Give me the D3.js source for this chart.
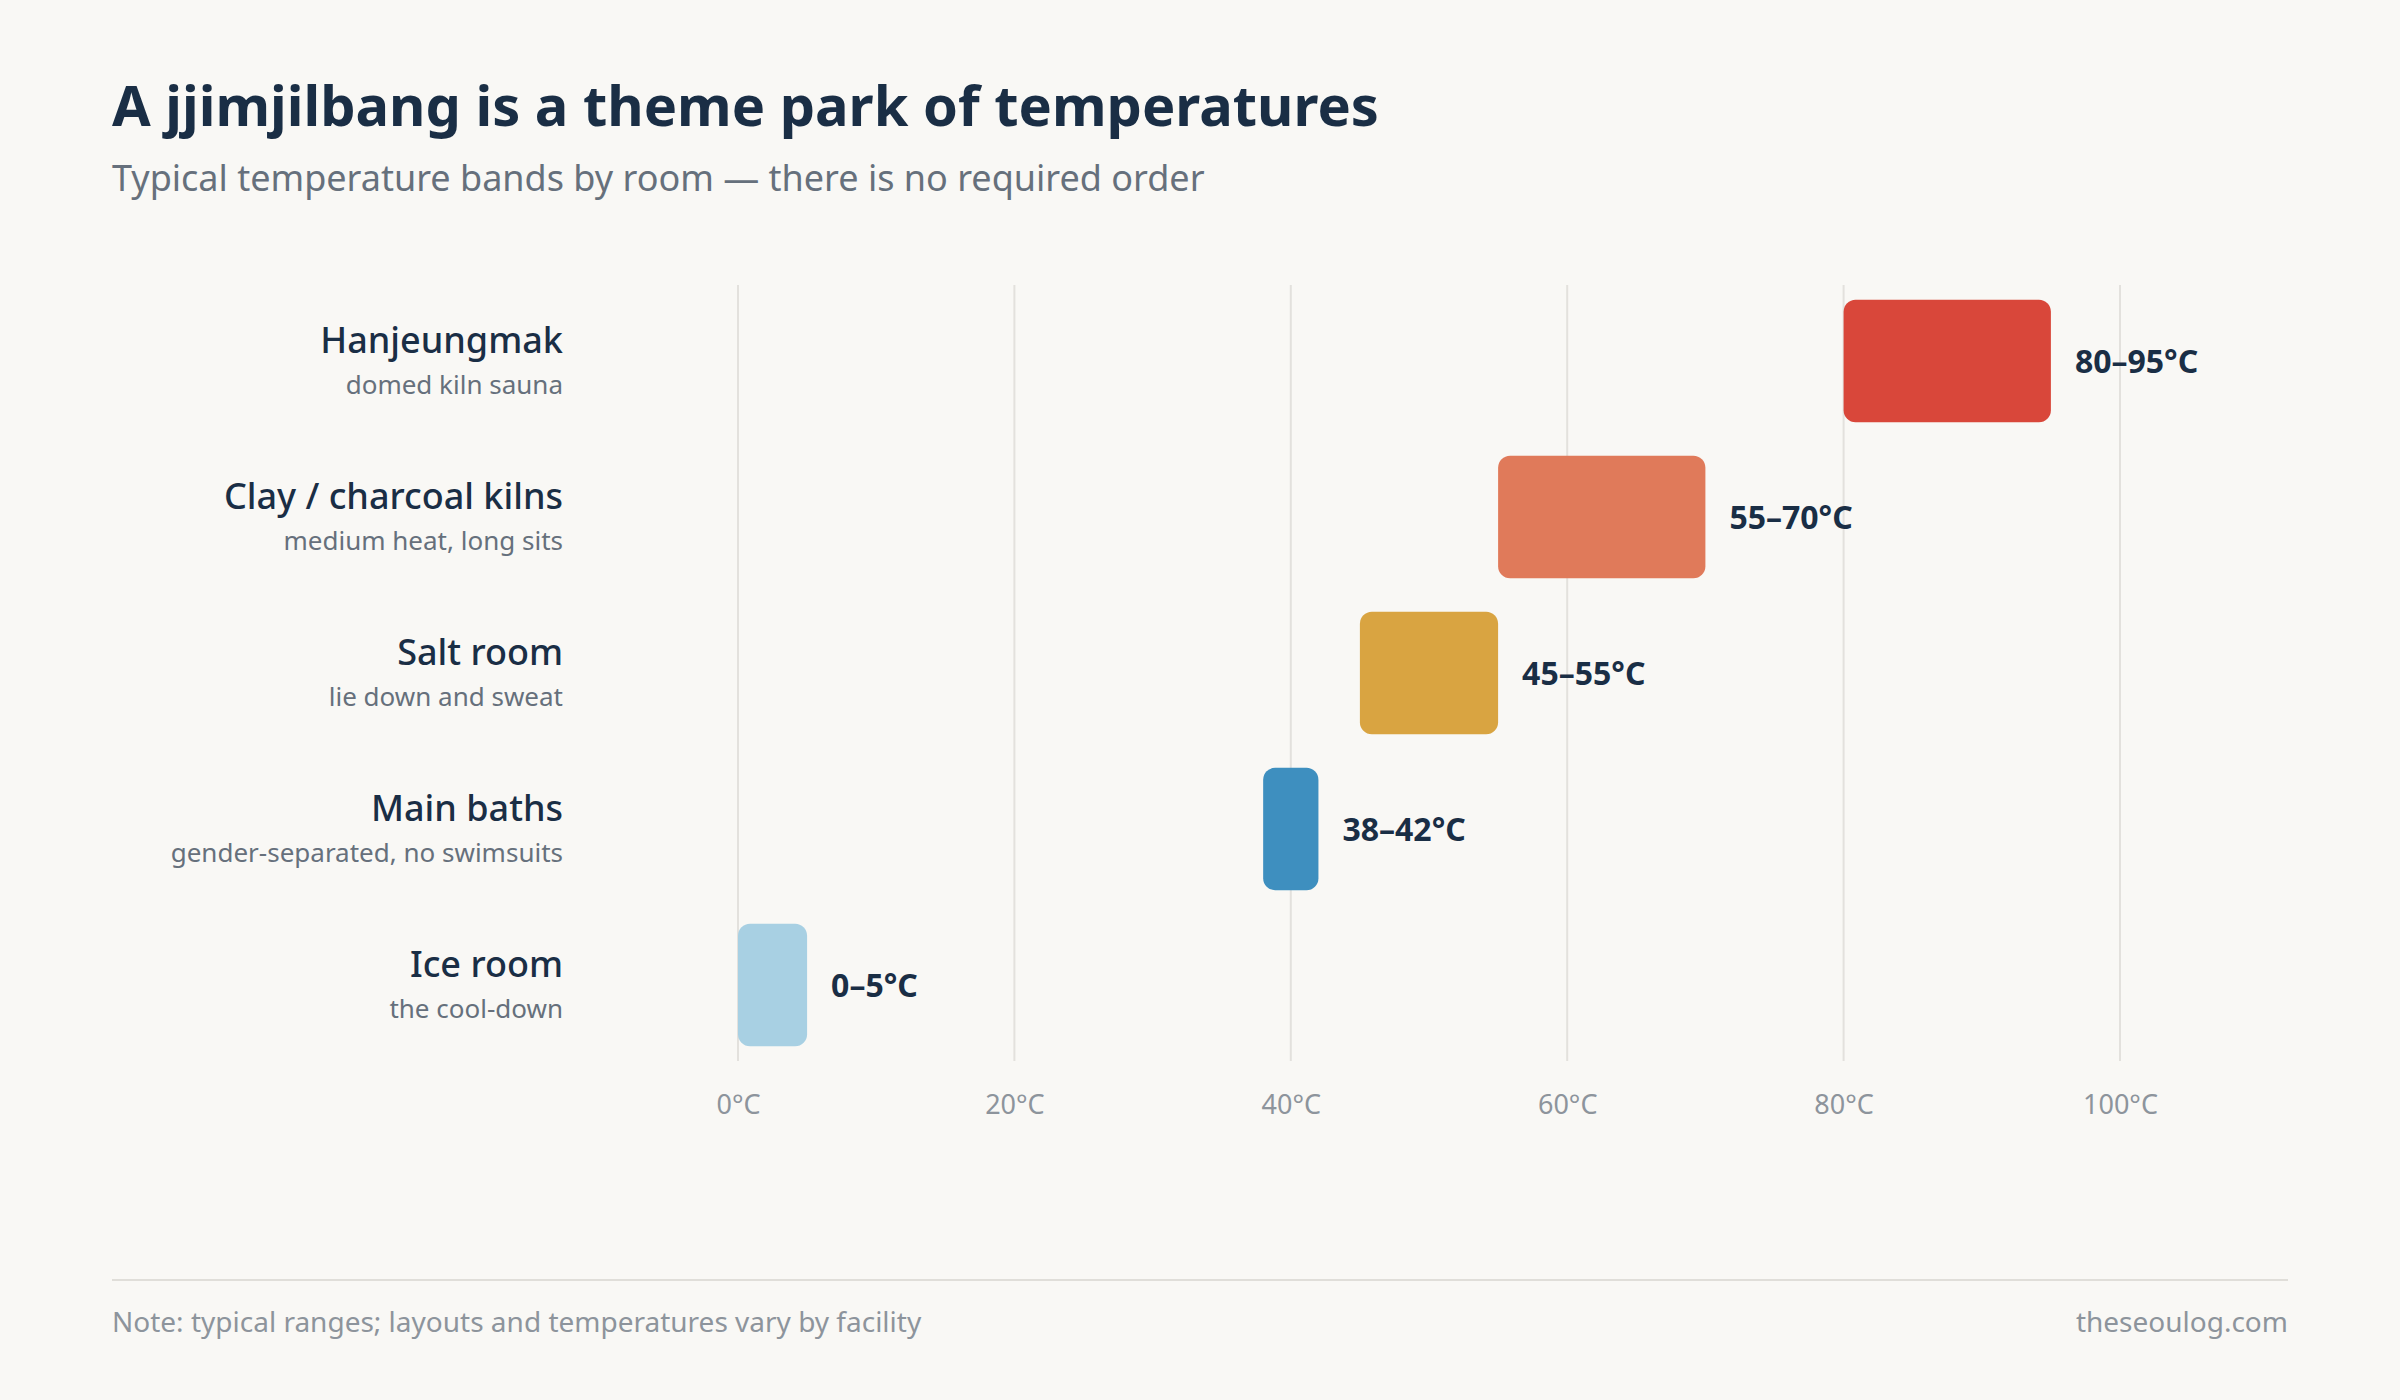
<!DOCTYPE html>
<html><head><meta charset="utf-8">
<script src="https://cdn.jsdelivr.net/npm/d3@7"></script>
<style>
body{margin:0;background:#f9f8f5;font-family:"Noto Sans",sans-serif;}
</style></head>
<body><div class="canvas"></div>
<script>
var rooms = ["Hanjeungmak", "Clay / charcoal kilns", "Salt room", "Main baths", "Ice room"];
var notes = ["domed kiln sauna", "medium heat, long sits", "lie down and sweat", "gender-separated, no swimsuits", "the cool-down"];
var lows = [80, 55, 45, 38, 0];
var highs = [95, 70, 55, 42, 5];
var colors = ["#d9473a", "#e07a5a", "#d9a441", "#3e8fbf", "#a8d0e3"];
var ticks = [0, 20, 40, 60, 80, 100];

var width = 2400, height = 1400;
var svg = d3.select(".canvas").append("svg")
    .attr("width", width).attr("height", height);
svg.append("rect").attr("width", width).attr("height", height).attr("fill", "#f9f8f5");

var x = d3.scaleLinear().domain([0, 100]).range([738, 2120]);
var y = d3.scaleBand().domain(rooms).range([283, 1063]).paddingInner(0.216).paddingOuter(0.108);

svg.append("text").attr("x", 112).attr("y", 126)
   .attr("font-size", 56).attr("font-weight", 700).attr("fill", "#1a2e45")
   .text("A jjimjilbang is a theme park of temperatures");
svg.append("text").attr("x", 112).attr("y", 191)
   .attr("font-size", 36).attr("fill", "#66707c")
   .text("Typical temperature bands by room \u2014 there is no required order");

// grid
svg.selectAll(".grid").data(ticks).enter().append("line")
   .attr("x1", d => x(d)).attr("x2", d => x(d))
   .attr("y1", 285).attr("y2", 1061)
   .attr("stroke", "#e3e1dd").attr("stroke-width", 2);

var axis = svg.append("g").attr("transform", "translate(0,1061)")
   .call(d3.axisBottom(x).tickValues(ticks).tickSize(0).tickPadding(34).tickFormat(d => d + "\u00b0C"));
axis.select(".domain").remove();
axis.selectAll("text").attr("font-size", 27).attr("fill", "#8d949c").attr("font-family", "Noto Sans");

var rows = svg.selectAll(".row").data(rooms).enter().append("g");
rows.append("rect")
   .attr("x", (d, i) => x(lows[i]))
   .attr("y", d => y(d))
   .attr("width", (d, i) => x(highs[i]) - x(lows[i]))
   .attr("height", y.bandwidth())
   .attr("rx", 12).attr("fill", (d, i) => colors[i]);
rows.append("text")
   .attr("x", (d, i) => x(highs[i]) + 24)
   .attr("y", d => y(d) + y.bandwidth() / 2 + 12)
   .attr("font-size", 32).attr("font-weight", 700).attr("fill", "#1a2e45")
   .text((d, i) => lows[i] + "\u2013" + highs[i] + "\u00b0C");
rows.append("text")
   .attr("x", 563).attr("y", d => y(d) + y.bandwidth() / 2 - 8)
   .attr("text-anchor", "end").attr("font-size", 36).attr("font-weight", 500).attr("fill", "#1a2e45")
   .text(d => d);
rows.append("text")
   .attr("x", 563).attr("y", d => y(d) + y.bandwidth() / 2 + 33)
   .attr("text-anchor", "end").attr("font-size", 26).attr("fill", "#66707c")
   .text((d, i) => notes[i]);

svg.append("line").attr("x1", 112).attr("x2", 2288).attr("y1", 1280).attr("y2", 1280)
   .attr("stroke", "#e0ded9").attr("stroke-width", 2);
svg.append("text").attr("x", 112).attr("y", 1332)
   .attr("font-size", 28).attr("fill", "#8d949c")
   .text("Note: typical ranges; layouts and temperatures vary by facility");
svg.append("text").attr("x", 2288).attr("y", 1332).attr("text-anchor", "end")
   .attr("font-size", 28).attr("fill", "#8d949c")
   .text("theseoulog.com");
</script></body></html>
